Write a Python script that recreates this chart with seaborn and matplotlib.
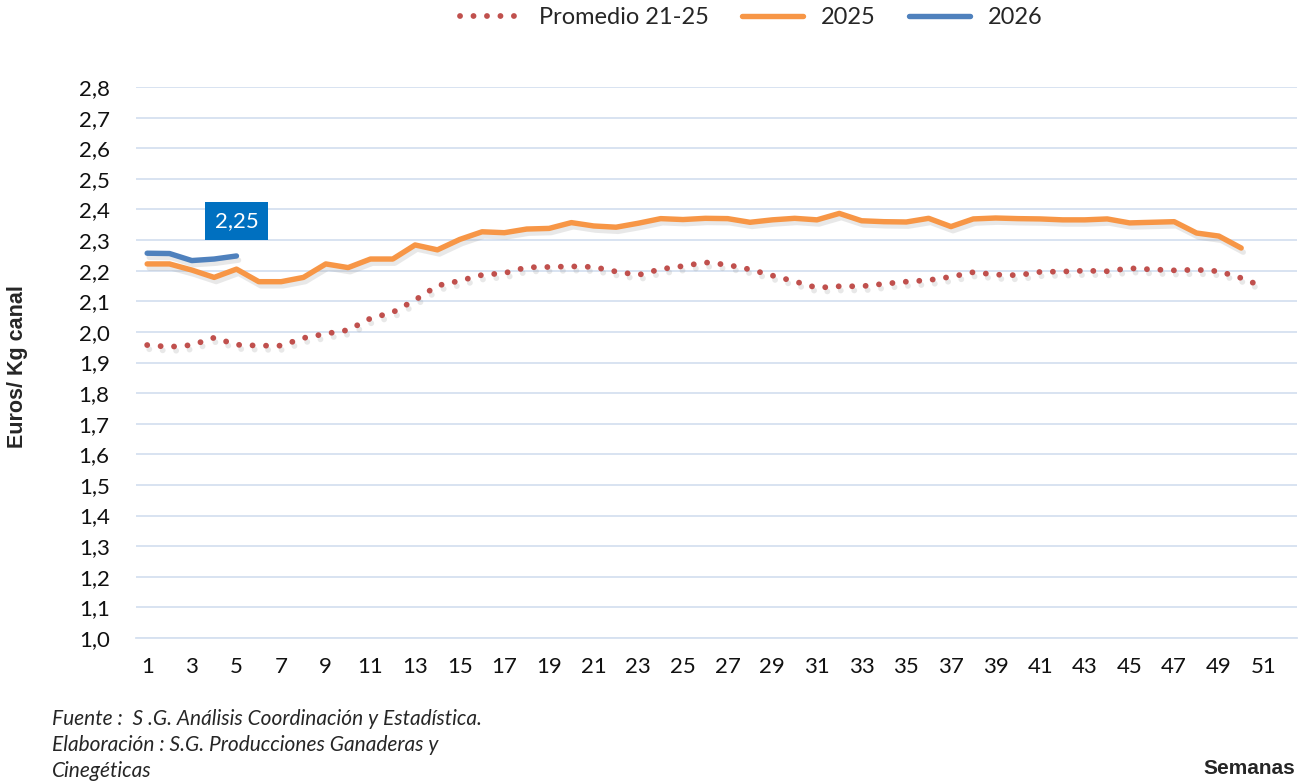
import matplotlib
matplotlib.use("Agg")
import matplotlib.pyplot as plt
import matplotlib.patheffects as pe
from matplotlib.ticker import FixedLocator, FuncFormatter
import numpy as np
import pandas as pd
import seaborn as sns

# ---- data ----
weeks_avg = list(range(1, 52))
promedio_21_25 = [1.957, 1.951, 1.957, 1.981, 1.958, 1.955, 1.955, 1.980, 1.994, 2.006,
                  2.044, 2.064, 2.104, 2.151, 2.167, 2.186, 2.192, 2.211, 2.212, 2.214,
                  2.212, 2.197, 2.186, 2.205, 2.215, 2.227, 2.219, 2.204, 2.184, 2.165,
                  2.144, 2.149, 2.149, 2.157, 2.164, 2.169, 2.180, 2.195, 2.187, 2.185,
                  2.196, 2.197, 2.200, 2.198, 2.208, 2.204, 2.201, 2.203, 2.198, 2.176,
                  2.147]
weeks_2025 = list(range(1, 51))
serie_2025 = [2.222, 2.222, 2.202, 2.178, 2.205, 2.164, 2.164, 2.178, 2.222, 2.210,
              2.238, 2.238, 2.284, 2.268, 2.302, 2.327, 2.324, 2.336, 2.338, 2.357,
              2.346, 2.342, 2.355, 2.370, 2.367, 2.371, 2.370, 2.358, 2.366, 2.371,
              2.366, 2.387, 2.363, 2.360, 2.359, 2.371, 2.344, 2.369, 2.372, 2.370,
              2.369, 2.366, 2.366, 2.369, 2.356, 2.358, 2.360, 2.323, 2.313, 2.274]
weeks_2026 = [1, 2, 3, 4, 5]
serie_2026 = [2.257, 2.256, 2.233, 2.238, 2.248]
label_2026 = "2,25"
xtick_labels = [str(w) for w in range(1, 52, 2)]
yticks = [round(1.0 + 0.1 * i, 1) for i in range(19)]

C_AVG = "#C0504D"
C_25 = "#F79646"
C_26 = "#4F81BD"
GRID = "#D6E1F0"

sns.set_theme(style="white")
plt.rcParams["font.family"] = ["Lato", "DejaVu Sans"]

fig = plt.figure(figsize=(13.07, 7.81), dpi=100)
ax = fig.add_axes([136 / 1307, 1 - 638 / 781, (1297 - 136) / 1307, (638 - 87) / 781])

sns.lineplot(x=weeks_avg, y=promedio_21_25, ax=ax, color=C_AVG, linewidth=4.2,
             label="Promedio 21-25")
sns.lineplot(x=weeks_2025, y=serie_2025, ax=ax, color=C_25, linewidth=3.9, label="2025")
sns.lineplot(x=weeks_2026, y=serie_2026, ax=ax, color=C_26, linewidth=3.9, label="2026")

lines = ax.get_lines()
lines[0].set_linestyle((0, (0.01, 2.3)))
lines[0].set_dash_capstyle("round")
for ln in lines:
    ln.set_solid_capstyle("round")
    ln.set_path_effects([pe.SimpleLineShadow(offset=(1.5, -3), shadow_color="#999999", alpha=0.22),
                         pe.Normal()])

ax.set_xlim(0.5, 52.5)
ax.set_ylim(1.0, 2.8)
ax.yaxis.set_major_locator(FixedLocator(yticks))
ax.yaxis.set_major_formatter(FuncFormatter(lambda v, p: f"{v:.1f}".replace(".", ",")))
ax.xaxis.set_major_locator(FixedLocator(list(range(1, 52, 2))))
ax.set_xticklabels(xtick_labels)
ax.xaxis.set_minor_locator(FixedLocator([w + 0.5 for w in range(0, 53)]))
ax.tick_params(axis="x", which="major", length=0, pad=14, labelsize=16, labelcolor="#111111")
ax.tick_params(axis="x", which="minor", length=7, width=1.2, color=GRID, direction="out")
ax.tick_params(axis="y", length=0, pad=19, labelsize=16, labelcolor="#111111")
ax.grid(axis="y", color=GRID, linewidth=1.3)
ax.grid(axis="x", visible=False)
ax.set_axisbelow(True)
for s in ["top", "right", "left"]:
    ax.spines[s].set_visible(False)
ax.spines["bottom"].set_color(GRID)
ax.spines["bottom"].set_linewidth(1.3)
ax.set_xlabel("")
ax.set_ylabel("")

ax.annotate(label_2026, xy=(weeks_2026[-1], serie_2026[-1]), xytext=(0, 35),
            textcoords="offset pixels", ha="center", va="center", color="white",
            fontsize=16, bbox=dict(boxstyle="square,pad=0.42", fc="#0070C0", ec="none"))

handles, labels = ax.get_legend_handles_labels()
ax.get_legend().remove()
leg = fig.legend(handles, labels, loc="upper center", bbox_to_anchor=(751 / 1307, 1.018), ncol=3,
                 frameon=False, fontsize=17, handlelength=2.6, columnspacing=1.4,
                 handletextpad=0.75)
for h in leg.get_lines():
    h.set_path_effects([])

fig.text(18 / 1307, 1 - 367 / 781, "Euros/ Kg canal", rotation=90, ha="center", va="center",
         fontsize=15.5, fontweight="bold", family=["Liberation Sans", "DejaVu Sans"])
fig.text(1249 / 1307, 1 - 768 / 781, "Semanas", ha="center", va="center",
         fontsize=15, fontweight="bold", family=["Liberation Sans", "DejaVu Sans"])
foot = ["Fuente :  S .G. Análisis Coordinación y Estadística.",
        "Elaboración : S.G. Producciones Ganaderas y",
        "Cinegéticas"]
for i, t in enumerate(foot):
    fig.text(52 / 1307, 1 - (719 + 26 * i) / 781, t, ha="left", va="center",
             fontsize=15, style="italic")

fig.savefig("out.png", dpi=100)
